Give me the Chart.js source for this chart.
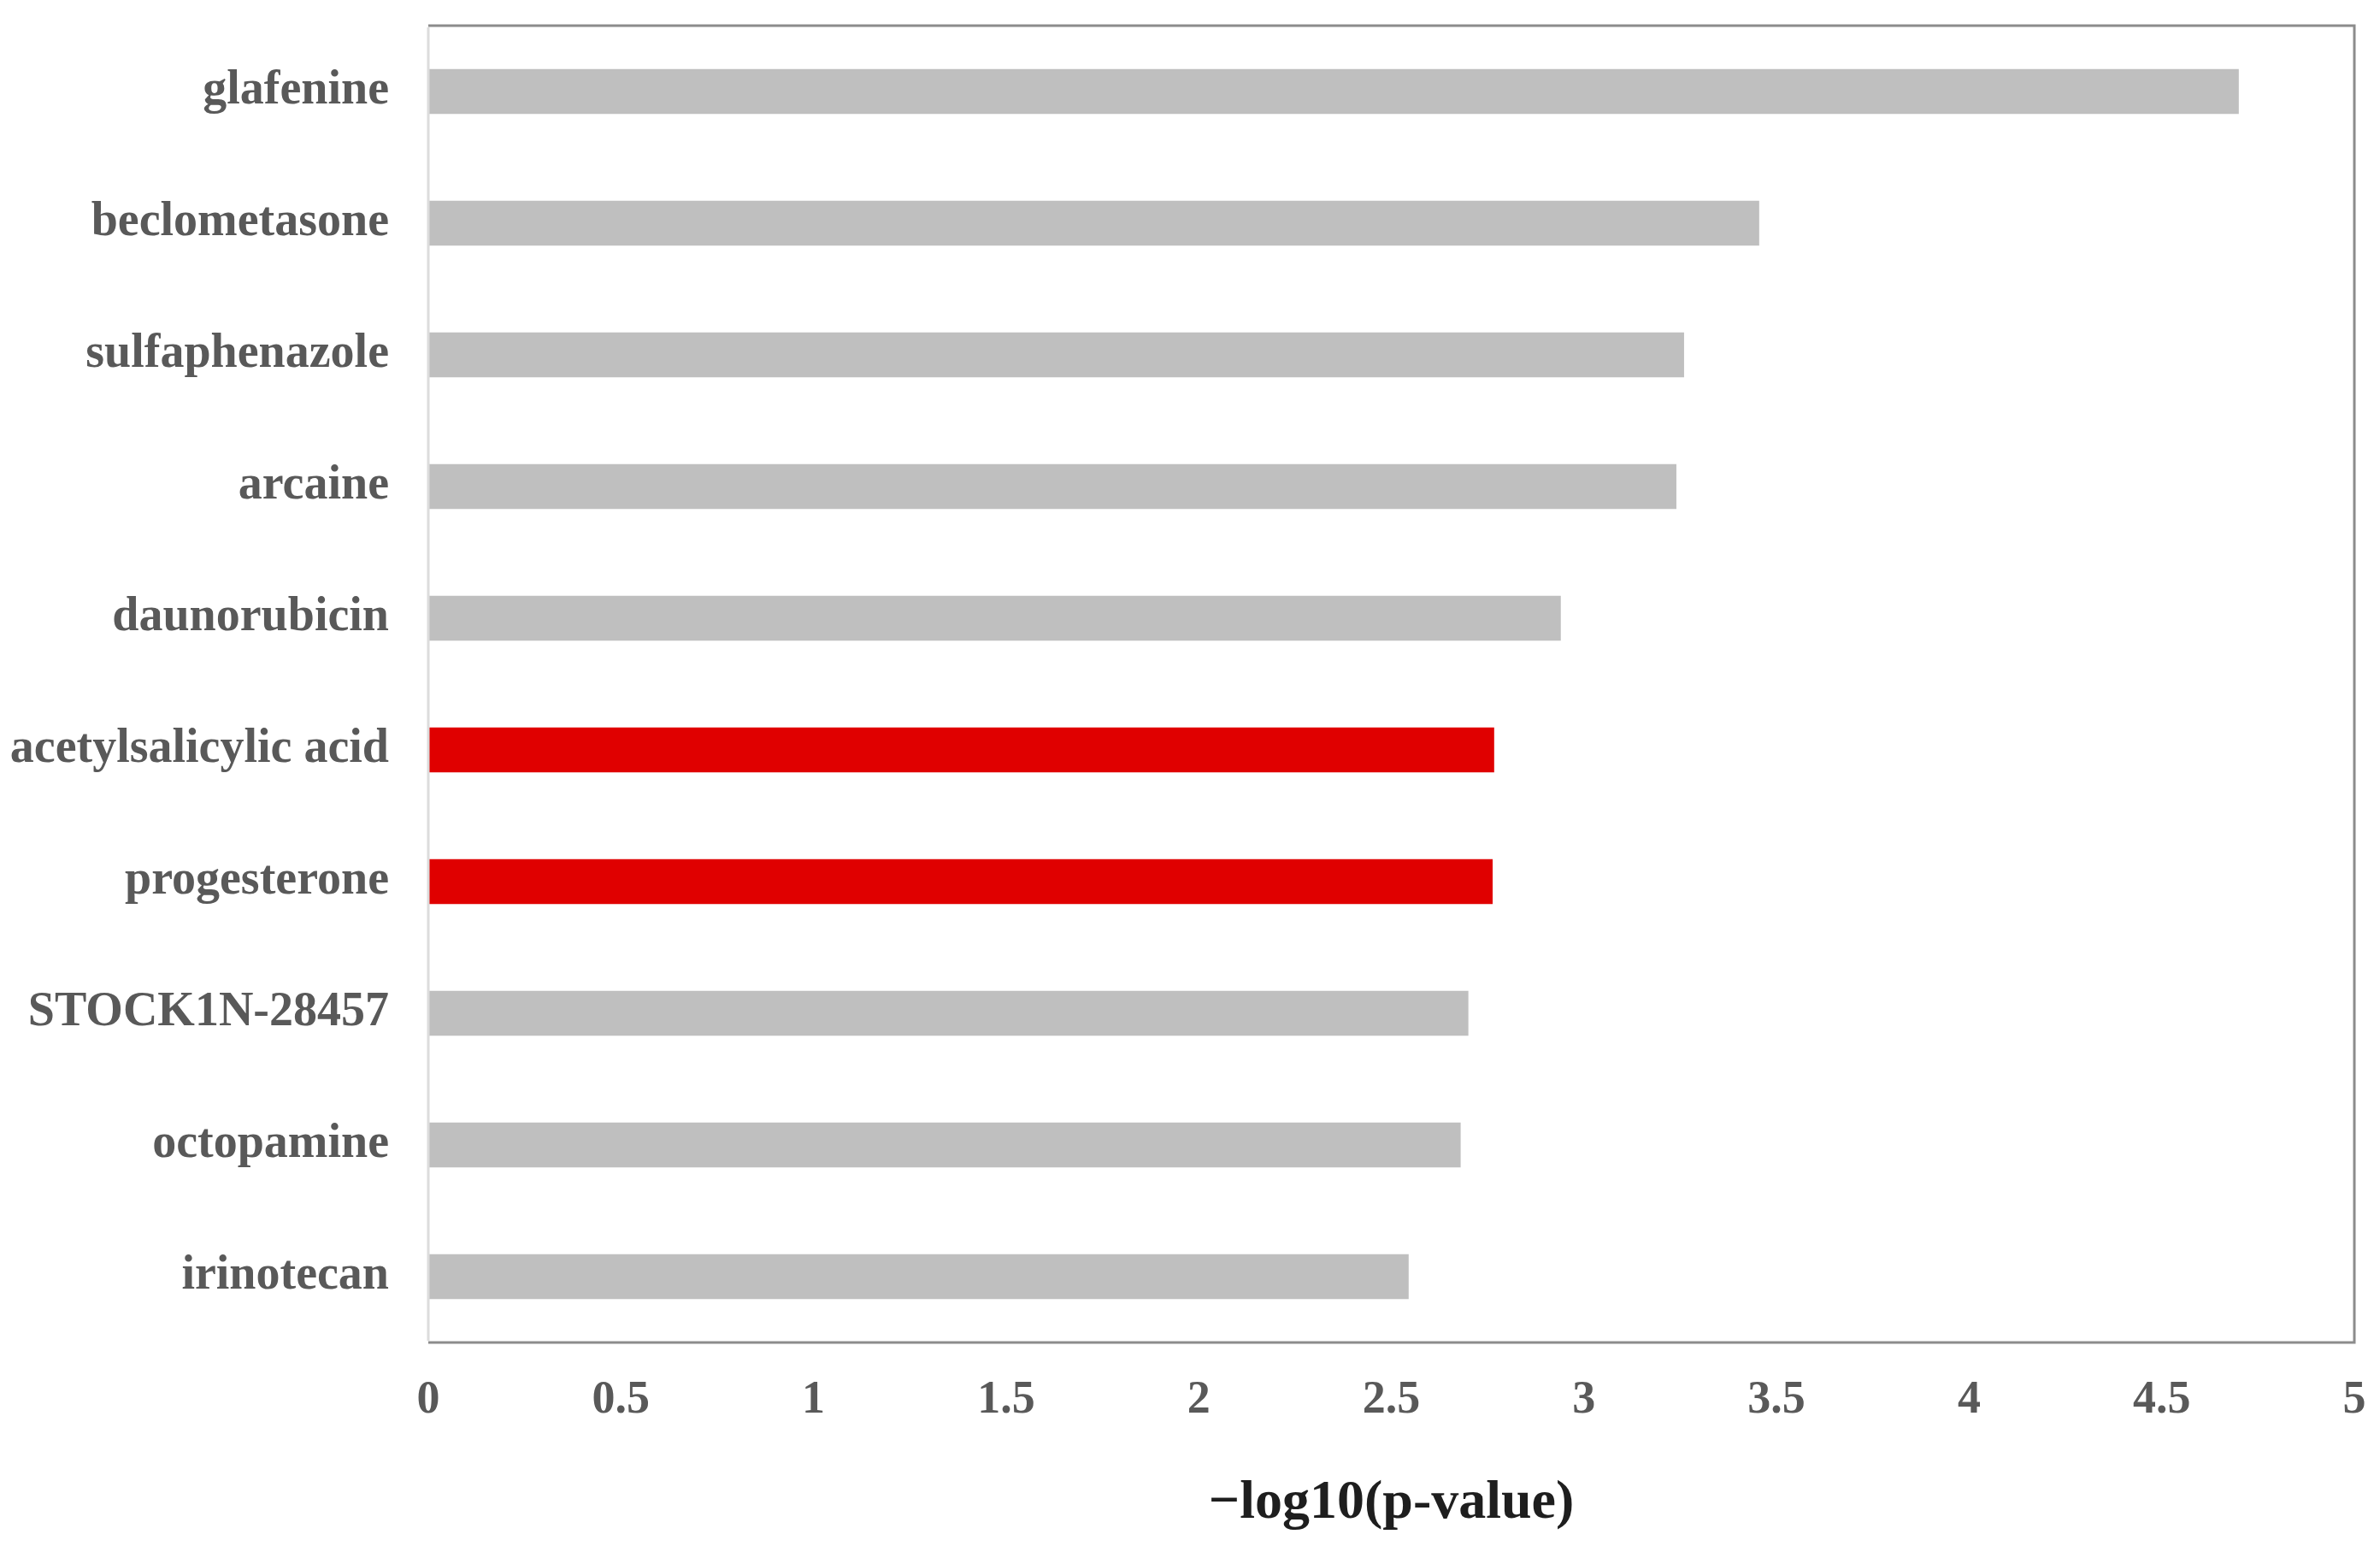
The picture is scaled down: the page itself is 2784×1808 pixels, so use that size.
<!DOCTYPE html>
<html>
<head>
<meta charset="utf-8">
<script src="https://cdn.jsdelivr.net/npm/chart.js@4/dist/chart.umd.min.js"></script>
<style>
  html, body { margin: 0; padding: 0; background: #fff; }
  #wrap { width: 2784px; height: 1808px; }
</style>
</head>
<body>
<div id="wrap"><canvas id="myChart" width="2784" height="1808"></canvas></div>
<script>
// Data
const drugs = ["glafenine", "beclometasone", "sulfaphenazole", "arcaine", "daunorubicin",
    "acetylsalicylic acid", "progesterone", "STOCK1N-28457", "octopamine", "irinotecan"];
const scores = [4.70, 3.455, 3.26, 3.24, 2.94, 2.767, 2.763, 2.70, 2.68, 2.545];
const highlighted = ["acetylsalicylic acid", "progesterone"];
const xTicks = [0, 0.5, 1, 1.5, 2, 2.5, 3, 3.5, 4, 4.5, 5];
const xTitle = "\u2212log10(p-value)";

const GRAY = "#bfbfbf";
const RED = "#e00000";
const TEXT = "#595959";
const FONT = "'Liberation Serif', 'Times New Roman', serif";

// Frame around the plot: dark top/right/bottom, pale left edge
const framePlugin = {
    id: "frame",
    afterDraw(chart) {
        const { ctx, chartArea: a } = chart;
        ctx.save();
        ctx.lineWidth = 3;
        ctx.strokeStyle = "#8c8c8c";
        ctx.beginPath();
        ctx.moveTo(a.left, a.top);
        ctx.lineTo(a.right, a.top);
        ctx.lineTo(a.right, a.bottom);
        ctx.lineTo(a.left, a.bottom);
        ctx.stroke();
        ctx.strokeStyle = "#dcdcdc";
        ctx.beginPath();
        ctx.moveTo(a.left, a.top + 2);
        ctx.lineTo(a.left, a.bottom - 2);
        ctx.stroke();
        ctx.restore();
    }
};

const ctx = document.getElementById("myChart").getContext("2d");
new Chart(ctx, {
    type: "bar",
    data: {
        labels: drugs,
        datasets: [{
            data: scores,
            backgroundColor: drugs.map(d => highlighted.includes(d) ? RED : GRAY),
            borderWidth: 0,
            categoryPercentage: 1,
            barPercentage: 0.34
        }]
    },
    options: {
        indexAxis: "y",
        responsive: false,
        animation: false,
        layout: { padding: { top: 30, right: 30, left: 0, bottom: 0 } },
        plugins: {
            legend: { display: false },
            tooltip: { enabled: false }
        },
        scales: {
            x: {
                min: 0,
                max: 5,
                afterBuildTicks: (scale) => { scale.ticks = xTicks.map(v => ({ value: v })); },
                afterFit: (scale) => {
                    scale.height = 238;
                    scale.paddingLeft = 0;
                    scale.paddingRight = 0;
                },
                grid: { display: false, drawTicks: false },
                border: { display: false },
                ticks: {
                    color: TEXT,
                    padding: 36,
                    maxRotation: 0,
                    callback: (v) => String(v),
                    font: { family: FONT, weight: "bold", size: 54 }
                },
                title: {
                    display: true,
                    text: xTitle,
                    color: "#1e1e1e",
                    padding: { top: 18, bottom: 11 },
                    font: { family: FONT, weight: "bold", size: 64 }
                }
            },
            y: {
                afterFit: (scale) => {
                    scale.width = 501;
                    scale.paddingTop = 0;
                    scale.paddingBottom = 0;
                },
                grid: { display: false, drawTicks: false },
                border: { display: false },
                ticks: {
                    color: TEXT,
                    padding: 46,
                    font: { family: FONT, weight: "bold", size: 56 }
                }
            }
        }
    },
    plugins: [framePlugin]
});
</script>
</body>
</html>
